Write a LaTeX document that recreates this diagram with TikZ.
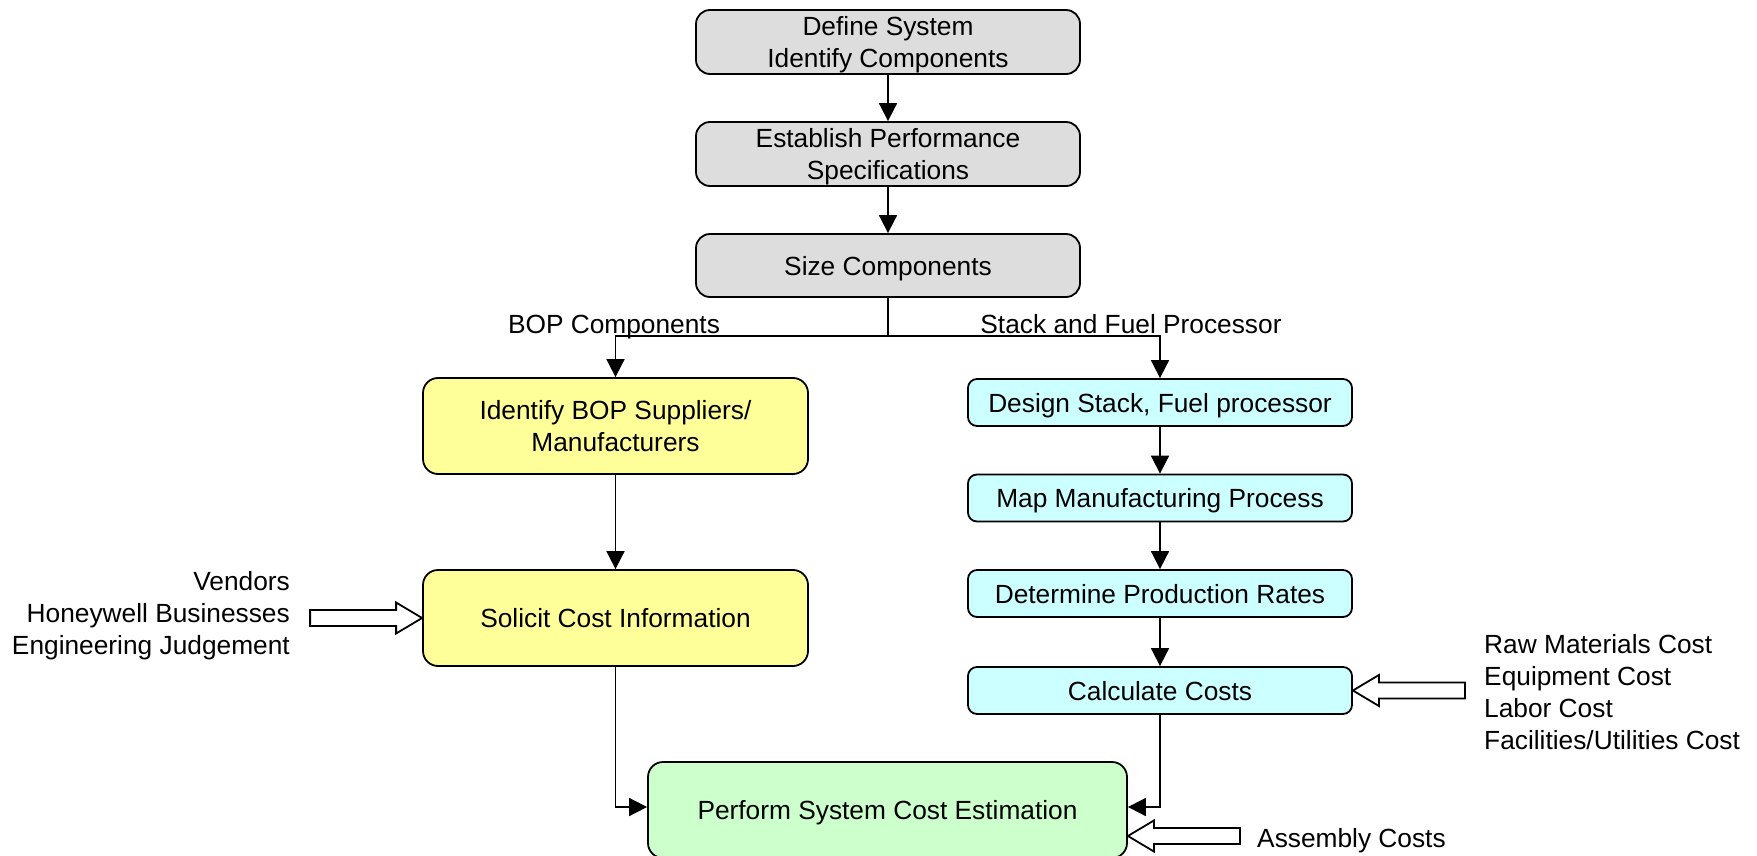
\documentclass[tikz,border=0pt]{standalone}
\usepackage{fontspec}
\setmainfont{Liberation Sans}
\usetikzlibrary{arrows.meta,calc}
\definecolor{boxgray}{HTML}{DDDDDD}
\definecolor{boxyellow}{HTML}{FFFF99}
\definecolor{boxcyan}{HTML}{CCFFFF}
\definecolor{boxgreen}{HTML}{CCFFCC}
\begin{document}
\begin{tikzpicture}[x=1pt,y=-1pt,
  every node/.style={font=\fontsize{26.3}{32}\selectfont},
  box/.style={draw, line width=1.8pt, align=center, inner sep=0pt, text height=19pt, text depth=0pt},
  twoline/.style={text height=51pt},
  graybox/.style={box, rounded corners=14pt, fill=boxgray, minimum width=384pt, minimum height=64pt},
  yellowbox/.style={box, rounded corners=15pt, fill=boxyellow, minimum width=385pt, minimum height=96pt},
  cyanbox/.style={box, rounded corners=9pt, fill=boxcyan, minimum width=384pt, minimum height=47pt},
  greenbox/.style={box, rounded corners=15pt, fill=boxgreen, minimum width=479pt, minimum height=96pt},
  flow/.style={line width=1.8pt, -{Triangle[length=18pt,width=18pt]}},
  link/.style={line width=1.8pt},
  hollow/.pic={\draw[line width=1.8pt, fill=white, line join=miter] (0,0) -- (-26,-15.5) -- (-26,-8) -- (-112,-8) -- (-112,8) -- (-26,8) -- (-26,15.5) -- cycle;}
]
\useasboundingbox (0,0) rectangle (1757,856);

\node[graybox, twoline] (b1) at (888,42) {Define System\\Identify Components};
\node[graybox, twoline] (b2) at (888,154) {Establish Performance\\Specifications};
\node[graybox, minimum height=63pt] (b3) at (888,265.5) {Size Components};
\node[yellowbox, twoline] (y1) at (615.5,426) {Identify BOP Suppliers/\\Manufacturers};
\node[yellowbox] (y2) at (615.5,618) {Solicit Cost Information};
\node[cyanbox] (c1) at (1160,402.5) {Design Stack, Fuel processor};
\node[cyanbox] (c2) at (1160,498) {Map Manufacturing Process};
\node[cyanbox] (c3) at (1160,593.5) {Determine Production Rates};
\node[cyanbox] (c4) at (1160,690.5) {Calculate Costs};
\node[greenbox] (g) at (887.5,810) {Perform System Cost Estimation};

\node[anchor=base] (lbop) at (614,333) {BOP Components};
\node[anchor=base] (lstack) at (1131,333) {Stack and Fuel Processor};
\node[anchor=east, align=right, inner sep=0pt] (lin) at (290,615.5) {Vendors\\Honeywell Businesses\\Engineering Judgement};
\node[anchor=west, align=left, inner sep=0pt] (rin) at (1484,692) {Raw Materials Cost\\Equipment Cost\\Labor Cost\\Facilities/Utilities Cost};
\node[anchor=base west, inner sep=0pt] (asm) at (1257,847) {Assembly Costs};

\draw[flow] (b1) -- (b2);
\draw[flow] (b2) -- (b3);
\coordinate (br) at (888,336);
\draw[link] (b3.south) -- (br);
\draw[flow] (br) -| (y1.north);
\draw[flow] (br) -| (c1.north);
\draw[flow] (y1) -- (y2);
\draw[flow] (c1) -- (c2);
\draw[flow] (c2) -- (c3);
\draw[flow] (c3) -- (c4);
\draw[flow] (y2.south) |- ($(g.west)+(0,-3)$);
\draw[flow] (c4.south) |- ($(g.east)+(0,-3)$);

\pic at (y2.west) {hollow};
\pic[rotate=180] at (c4.east) {hollow};
\coordinate (gin) at ($(g.east)+(0,26)$);
\pic[rotate=180] at (gin) {hollow};
\end{tikzpicture}
\end{document}
